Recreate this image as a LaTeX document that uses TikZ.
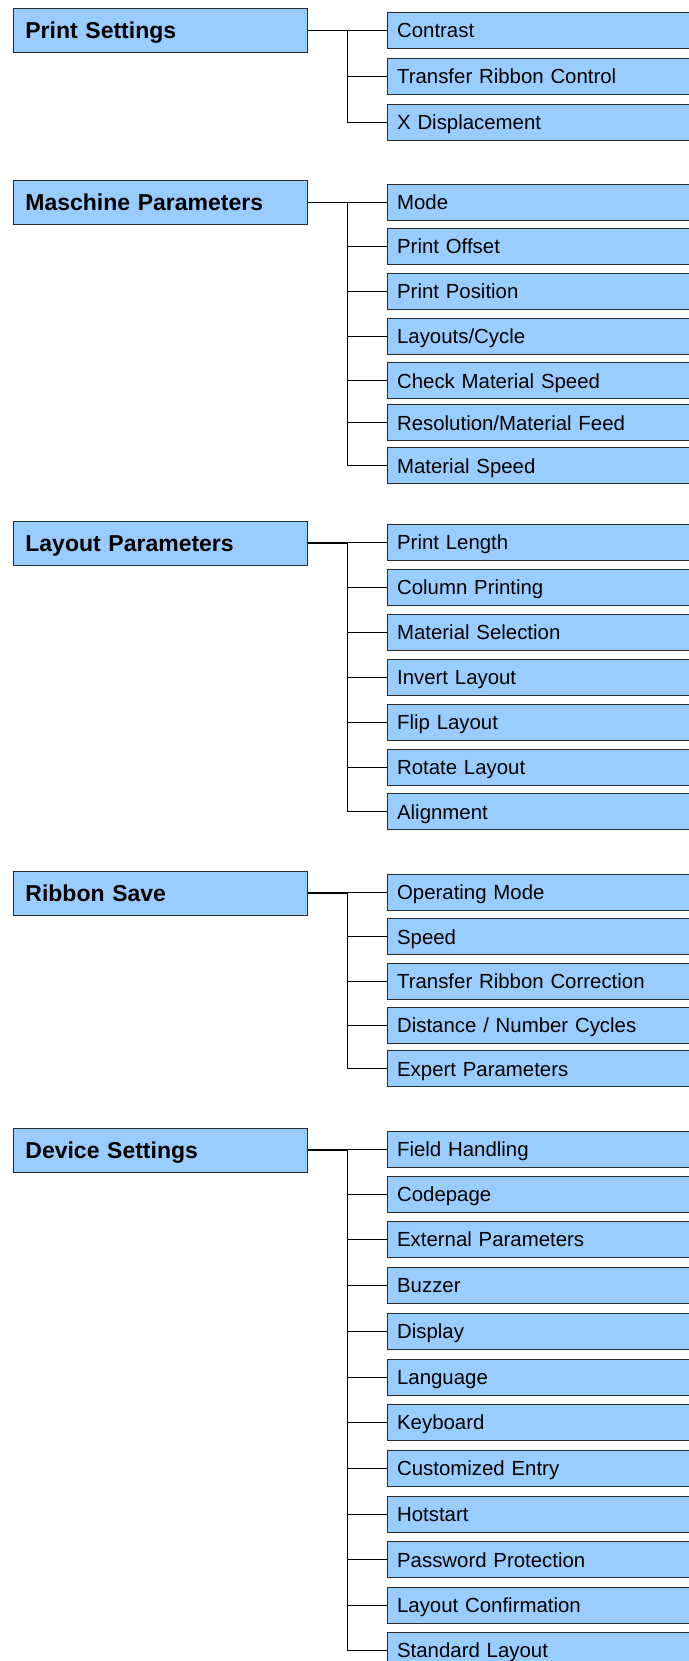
\documentclass[tikz,border=0pt]{standalone}
\usepackage{fontspec}
\setmainfont{Liberation Sans}
\definecolor{menu-blue}{HTML}{99CCFF}
\definecolor{menu-edge}{HTML}{2B2B2B}

\begin{document}
\begin{tikzpicture}[x=1pt, y=-1pt,
    group/.style={draw=menu-edge, fill=menu-blue, line width=0.8pt, anchor=west,
      minimum height=44pt, text width=270pt, inner xsep=12pt, align=left,
      text height=16.4pt, text depth=0pt,
      font=\fontsize{23}{27}\selectfont\bfseries},
    entry/.style={draw=menu-edge, fill=menu-blue, line width=0.8pt, anchor=west,
      minimum height=36pt, text width=310pt, inner xsep=10pt, align=left,
      text height=14.6pt, text depth=0pt,
      font=\fontsize{20.4}{24}\selectfont},
    link/.style={line width=0.9pt},
    stub/.style={line width=1.4pt}]
    \useasboundingbox[fill=white] (0,0) rectangle (688,1661);

    % Print Settings
    \node[group] (ps) at (13,30.5) {Print Settings};
    \coordinate (ps-trunk) at (347,30.5);
    \draw[stub] (ps) -- (ps-trunk);
    \foreach \y/\txt [count=\i] in {30.7/Contrast, 76.7/Transfer Ribbon Control,
        122.3/X Displacement} {
      \node[entry] (ps-\i) at (386.7,\y) {\txt};
      \draw[link] (ps-trunk) |- (ps-\i);
    }

    % Maschine Parameters
    \node[group] (mp) at (13,202.5) {Maschine Parameters};
    \coordinate (mp-trunk) at (347,202.5);
    \draw[stub] (mp) -- (mp-trunk);
    \foreach \y/\txt [count=\i] in {202/Mode, 246.7/Print Offset, 291.7/Print Position,
        336/{Layouts/Cycle}, 380.7/Check Material Speed,
        422.7/{Resolution/Material Feed}, 465.7/Material Speed} {
      \node[entry] (mp-\i) at (386.7,\y) {\txt};
      \draw[link] (mp-trunk) |- (mp-\i);
    }

    % Layout Parameters
    \node[group] (lp) at (13,543) {Layout Parameters};
    \coordinate (lp-trunk) at (347,543);
    \draw[stub] (lp) -- (lp-trunk);
    \foreach \y/\txt [count=\i] in {542.3/Print Length, 587.3/Column Printing,
        632/Material Selection, 677.3/Invert Layout, 722/Flip Layout,
        767.3/Rotate Layout, 811.7/Alignment} {
      \node[entry] (lp-\i) at (386.7,\y) {\txt};
      \draw[link] (lp-trunk) |- (lp-\i);
    }

    % Ribbon Save
    \node[group] (rs) at (13,893) {Ribbon Save};
    \coordinate (rs-trunk) at (347,893);
    \draw[stub] (rs) -- (rs-trunk);
    \foreach \y/\txt [count=\i] in {892.3/Operating Mode, 936.7/Speed,
        981/Transfer Ribbon Correction, 1025/{Distance / Number Cycles},
        1068.7/Expert Parameters} {
      \node[entry] (rs-\i) at (386.7,\y) {\txt};
      \draw[link] (rs-trunk) |- (rs-\i);
    }

    % Device Settings
    \node[group] (ds) at (13,1150) {Device Settings};
    \coordinate (ds-trunk) at (347,1150);
    \draw[stub] (ds) -- (ds-trunk);
    \foreach \y/\txt [count=\i] in {1149.3/Field Handling, 1194.3/Codepage,
        1239.3/External Parameters, 1285/Buzzer, 1331/Display, 1377/Language,
        1422.3/Keyboard, 1468/Customized Entry, 1514/Hotstart,
        1559.7/Password Protection, 1605.3/Layout Confirmation,
        1650/Standard Layout} {
      \node[entry] (ds-\i) at (386.7,\y) {\txt};
      \draw[link] (ds-trunk) |- (ds-\i);
    }
  \end{tikzpicture}
\end{document}
